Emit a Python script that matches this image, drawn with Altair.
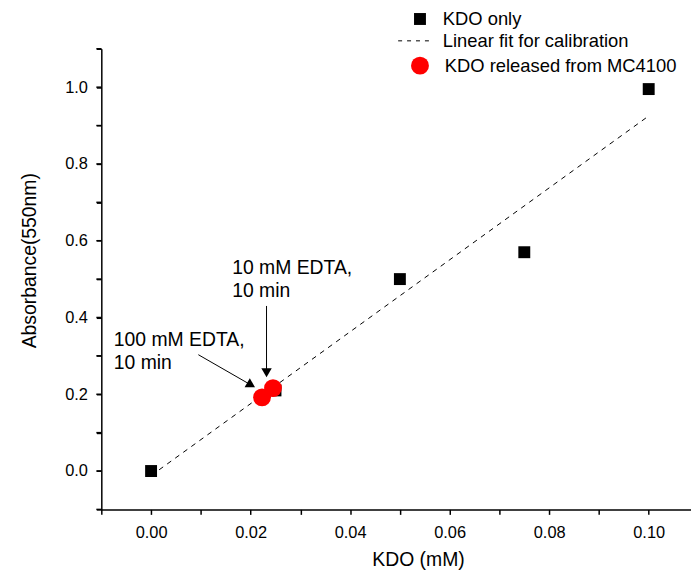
import altair as alt
import pandas as pd

# ---- data ----
kdo_x = [0.0, 0.025, 0.05, 0.075, 0.1]
kdo_y = [0.0, 0.21, 0.50, 0.57, 0.995]

fit_x = [0.0, 0.1]
fit_y = [-0.012, 0.925]

rel_x = [0.0223, 0.0245]
rel_y = [0.192, 0.216]

ann_text = ["100 mM EDTA,\n10 min", "10 mM EDTA,\n10 min"]
ann_x = [-0.0075, 0.0163]
ann_y = [0.326, 0.513]

arrow_x = [0.0095, 0.0232]
arrow_y = [0.303, 0.43]
arrow_x2 = [0.0201, 0.0232]
arrow_y2 = [0.224, 0.256]
arrow_shape = ["triangle-right", "triangle-down"]
arrow_angle = [30, 0]

legend_labels = ["KDO only", "Linear fit for calibration", "KDO released from MC4100"]

x_ticks = [-0.01, 0.0, 0.01, 0.02, 0.03, 0.04, 0.05, 0.06, 0.07, 0.08, 0.09, 0.10]
x_labels = ["0.00", "0.02", "0.04", "0.06", "0.08", "0.10"]
y_ticks = [-0.1, 0.0, 0.1, 0.2, 0.3, 0.4, 0.5, 0.6, 0.7, 0.8, 0.9, 1.0, 1.1]
y_labels = ["0.0", "0.2", "0.4", "0.6", "0.8", "1.0"]

FONT = "Liberation Sans"

kdo_df = pd.DataFrame({"x": kdo_x, "y": kdo_y})
fit_df = pd.DataFrame({"x": fit_x, "y": fit_y})
rel_df = pd.DataFrame({"x": rel_x, "y": rel_y})
ann_df = pd.DataFrame({"x": ann_x, "y": ann_y, "t": ann_text})
arr_df = pd.DataFrame({"x": arrow_x, "y": arrow_y, "x2": arrow_x2, "y2": arrow_y2,
                       "shp": arrow_shape, "ang": arrow_angle})
ytick_df = pd.DataFrame({"y": y_ticks})

xs = alt.Scale(domain=[-0.01, 0.1085], nice=False, zero=False)
ys = alt.Scale(domain=[-0.1, 1.1], nice=False, zero=False)


def keep(labels):
    arr = ",".join("'%s'" % s for s in labels)
    return "indexof([%s], datum.label) >= 0 ? datum.label : ''" % arr


x_axis = alt.Axis(
    values=x_ticks, grid=False, title="KDO (mM)", labelOverlap=False, format=".2f",
    labelExpr=keep(x_labels),
    tickSize=5, labelPadding=10, titleX=319, titleY=57, titleBaseline="alphabetic",
    titleAlign="center",
)
y_axis = alt.Axis(
    values=y_ticks, grid=False, title="Absorbance(550nm)", labelOverlap=False, format=".1f",
    labelExpr=keep(y_labels),
    tickSize=5, labelPadding=9, titleX=-72, titleY=213, titleAngle=270,
    titleBaseline="middle", titleAlign="center",
)

X = alt.X("x:Q", scale=xs, axis=x_axis)
Y = alt.Y("y:Q", scale=ys, axis=y_axis)

fit = alt.Chart(fit_df).mark_line(color="black", strokeWidth=1, strokeDash=[5, 5]).encode(
    x=X, y=Y)

squares = alt.Chart(kdo_df).mark_point(shape="square", filled=True, color="black",
                                       size=144, opacity=1).encode(x=X, y=Y)

circles = alt.Chart(rel_df).mark_point(shape="circle", filled=True, color="#ff0000",
                                       size=324, opacity=1).encode(x=X, y=Y)

arrow_lines = alt.Chart(arr_df).mark_rule(color="black", strokeWidth=1).encode(
    x=X, y=Y, x2="x2:Q", y2="y2:Q")

arrow_heads = alt.Chart(arr_df).mark_point(filled=True, color="black", size=110,
                                           opacity=1).encode(
    x=alt.X("x2:Q", scale=xs, axis=x_axis), y=alt.Y("y2:Q", scale=ys, axis=y_axis),
    shape=alt.Shape("shp:N", scale=None),
    angle=alt.Angle("ang:Q", scale=None))

ann = alt.Chart(ann_df).mark_text(align="left", baseline="alphabetic", fontSize=19.5,
                                  font=FONT, lineBreak="\n", lineHeight=23,
                                  color="black").encode(x=X, y=Y, text="t:N")

# y-axis tick marks (every 0.1), drawn through the y scale
yticks = alt.Chart(ytick_df).mark_rule(color="black", strokeWidth=1.5).encode(
    y=Y, x=alt.value(-5), x2=alt.value(0))

# ---- legend built by hand (top right) ----
LFS = 18.5
lg_sq = alt.Chart(kdo_df.head(1)).mark_point(shape="square", filled=True, color="black",
                                             size=144, opacity=1).encode(
    x=alt.value(321), y=alt.value(-30))
lg_t1 = alt.Chart(kdo_df.head(1)).mark_text(align="left", baseline="middle", fontSize=LFS,
                                            font=FONT, color="black").encode(
    x=alt.value(344), y=alt.value(-30), text=alt.value(legend_labels[0]))
lg_line = alt.Chart(kdo_df.head(1)).mark_rule(color="black", strokeWidth=1,
                                              strokeDash=[4, 5]).encode(
    x=alt.value(299), x2=alt.value(334), y=alt.value(-8))
lg_t2 = alt.Chart(kdo_df.head(1)).mark_text(align="left", baseline="middle", fontSize=LFS,
                                            font=FONT, color="black").encode(
    x=alt.value(344), y=alt.value(-8), text=alt.value(legend_labels[1]))
lg_c = alt.Chart(kdo_df.head(1)).mark_point(shape="circle", filled=True, color="#ff0000",
                                            size=324, opacity=1).encode(
    x=alt.value(321), y=alt.value(17))
lg_t3 = alt.Chart(kdo_df.head(1)).mark_text(align="left", baseline="middle", fontSize=LFS,
                                            font=FONT, color="black").encode(
    x=alt.value(346), y=alt.value(17), text=alt.value(legend_labels[2]))

chart = alt.layer(
    fit, squares, circles, arrow_lines, arrow_heads, ann, yticks,
    lg_sq, lg_t1, lg_line, lg_t2, lg_c, lg_t3,
).properties(
    width=594, height=464,
    padding={"left": 94, "top": 39, "right": 0, "bottom": 64},
    autosize=alt.AutoSizeParams(type="none"),
).configure_view(
    stroke=None
).configure_axis(
    labelFont=FONT, titleFont=FONT, labelFontSize=16.5, titleFontSize=19.5,
    labelColor="black", titleColor="black", titleFontWeight="normal",
    domainColor="black", tickColor="black", domainWidth=1.5, tickWidth=1.5,
)

chart.save("out.html", embed_options={"renderer": "svg", "actions": False})
